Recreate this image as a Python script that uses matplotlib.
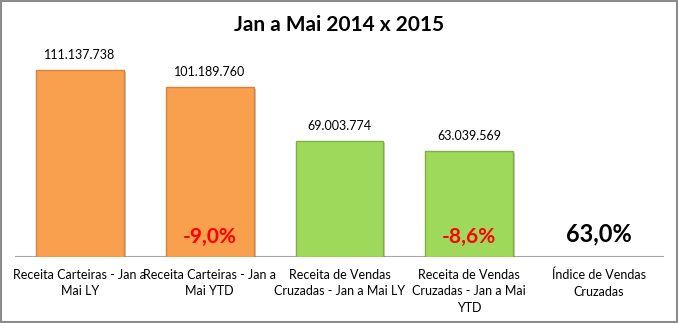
import matplotlib
matplotlib.use('Agg')
from matplotlib import pyplot as plt
from matplotlib.patches import Rectangle
import matplotlib.patheffects as pe

categories = ['Receita Carteiras - Jan a\nMai LY', 'Receita Carteiras - Jan a\nMai YTD',
              'Receita de Vendas\nCruzadas - Jan a Mai LY', 'Receita de Vendas\nCruzadas - Jan a Mai\nYTD',
              'Índice de Vendas\nCruzadas']
values = [111137738, 101189760, 69003774, 63039569]
value_labels = ['111.137.738', '101.189.760', '69.003.774', '63.039.569']
bar_colors = ['#F9A04E', '#F9A04E', '#9FD95B', '#9FD95B']
edge_colors = ['#D9823A', '#D9823A', '#7DB23C', '#7DB23C']
pct_labels = ['', '-9,0%', '', '-8,6%']
index_label = '63,0%'

W, H = 679, 323
fig = plt.figure(figsize=(W / 100, H / 100), dpi=100)
fig.patch.set_facecolor('white')
fig.patches.append(Rectangle((0.002, 0.003), 0.995, 0.993, transform=fig.transFigure,
                             fill=False, edgecolor='#8c8c8c', linewidth=1.5))

ax = fig.add_axes([15 / W, 1 - 257 / H, 649 / W, (257 - 60) / H])
ax.set_xlim(-0.5, 4.5)
ymax = 117.1e6
ax.set_ylim(0, ymax)
ax.axis('off')
ax.axhline(0, color='#a6a6a6', linewidth=1.5)

x = list(range(len(values)))
bars = ax.bar(x, values, width=0.676, color=bar_colors, edgecolor=edge_colors, linewidth=1.0, zorder=2)
for b in bars:
    b.set_path_effects([pe.SimplePatchShadow(offset=(1.5, -1.5), alpha=0.25), pe.Normal()])

font = 'Lato'
for i, v in enumerate(values):
    ax.text(i, v + ymax * 0.045, value_labels[i], ha='center', va='bottom', fontsize=9, family=font)
    if pct_labels[i]:
        ax.text(i, ymax * 0.05, pct_labels[i], ha='center', va='bottom', fontsize=15,
                fontweight='bold', color='#FF0000', family=font)
ax.text(4, ymax * 0.06, index_label, ha='center', va='bottom', fontsize=17,
        fontweight='bold', color='black', family=font)

for i, c in enumerate(categories):
    ax.text(i, -ymax * 0.06, c, ha='center', va='top', fontsize=9, family=font, linespacing=1.45)

fig.text(0.5, 1 - 25 / H, 'Jan a Mai 2014 x 2015', ha='center', va='center',
         fontsize=15, fontweight='bold', family=font)

fig.savefig('out.png', dpi=100)
